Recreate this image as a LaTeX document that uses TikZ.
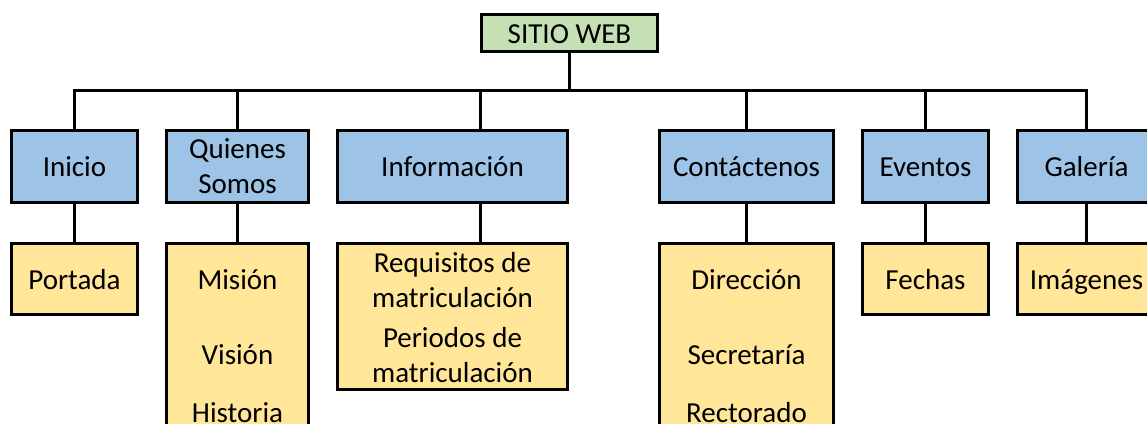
\documentclass[tikz,border=0pt]{standalone}
\usepackage{fontspec}
\setmainfont{Carlito}
\usetikzlibrary{calc}
\definecolor{topgreen}{RGB}{197,224,180}
\definecolor{secblue}{RGB}{157,195,230}
\definecolor{leafyellow}{RGB}{255,230,153}
\tikzset{
  boxbase/.style={draw=black, line width=3pt, rectangle, inner sep=0pt, align=center,
    font=\fontsize{29}{35}\selectfont},
  oneline/.style={text height=25pt, text depth=5pt},
  rootbox/.style={boxbase, oneline, fill=topgreen, minimum width=176pt, minimum height=37pt},
  secbox/.style={boxbase, fill=secblue, minimum height=72pt},
  leafbox/.style={boxbase, fill=leafyellow},
  itemtext/.style={anchor=base, inner sep=0pt, font=\fontsize{29}{35}\selectfont},
  conn/.style={draw=black, line width=3pt}
}
\begin{document}
\begin{tikzpicture}[x=1pt, y=-1pt]
\useasboundingbox (0,0) rectangle (1147,423);
% root
\node[rootbox] (web) at (569.5,33) {SITIO WEB};
% level 1
\node[secbox, oneline, minimum width=126pt] (inicio) at (74.5,166.5) {Inicio};
\node[secbox, minimum width=142pt] (quienes) at (237.5,166.5) {Quienes\\Somos};
\node[secbox, oneline, minimum width=230pt] (info) at (452.5,166.5) {Información};
\node[secbox, oneline, minimum width=174pt] (contact) at (746.5,166.5) {Contáctenos};
\node[secbox, oneline, minimum width=126pt] (eventos) at (925.5,166.5) {Eventos};
\node[secbox, oneline, minimum width=138pt] (galeria) at (1086.5,166.5) {Galería};
% level 2
\node[leafbox, oneline, minimum width=126pt, minimum height=71pt] (portada) at (74.5,279) {Portada};
\node[leafbox, minimum width=142pt, minimum height=216.5pt] (mision) at (237.5,351.75) {};
\node[itemtext] (t-mision) at (237.5,289) {Misión};
\node[itemtext] (t-vision) at (237.5,364) {Visión};
\node[itemtext] (t-historia) at (237.5,422) {Historia};
\node[leafbox, minimum width=230pt, minimum height=146pt] (req) at (452.5,316.5) {};
\node[inner sep=0pt, align=center, font=\fontsize{29}{35}\selectfont] (t-req) at (452.5,318)
  {Requisitos de\\matriculación\\[5pt]Periodos de\\matriculación};
\node[leafbox, minimum width=174pt, minimum height=216.5pt] (direccion) at (746.5,351.75) {};
\node[itemtext] (t-direccion) at (746.5,289) {Dirección};
\node[itemtext] (t-secretaria) at (746.5,364) {Secretaría};
\node[itemtext] (t-rectorado) at (746.5,422) {Rectorado};
\node[leafbox, oneline, minimum width=126pt, minimum height=71pt] (fechas) at (925.5,279) {Fechas};
\node[leafbox, oneline, minimum width=138pt, minimum height=71pt] (imagenes) at (1086.5,279) {Imágenes};
% connectors
\coordinate (bus) at (569.5,90);
\draw[conn] (web.south) -- (bus);
\draw[conn] (inicio.north) |- (bus);
\draw[conn] (quienes.north) |- (bus);
\draw[conn] ($(info.north west)!0.622!(info.north east)$) |- (bus);
\draw[conn] (contact.north) |- (bus);
\draw[conn] (eventos.north) |- (bus);
\draw[conn] (galeria.north) |- (bus);
\draw[conn] (inicio.south) -- (portada.north);
\draw[conn] (quienes.south) -- (mision.north);
\draw[conn] ($(info.south west)!0.622!(info.south east)$) -- ($(req.north west)!0.622!(req.north east)$);
\draw[conn] (contact.south) -- (direccion.north);
\draw[conn] (eventos.south) -- (fechas.north);
\draw[conn] (galeria.south) -- (imagenes.north);
\end{tikzpicture}
\end{document}
